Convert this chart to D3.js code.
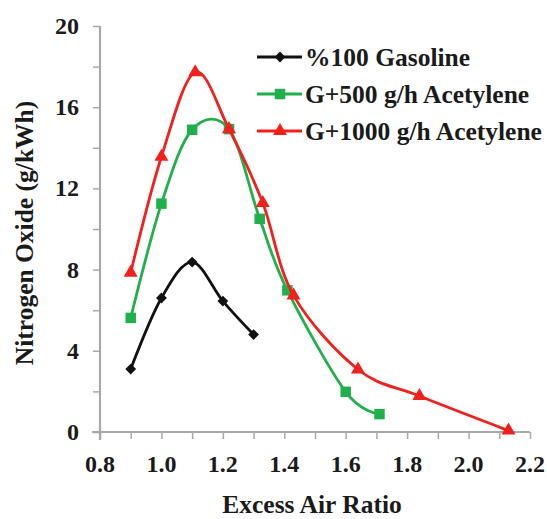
<!DOCTYPE html>
<html>
<head>
<meta charset="utf-8">
<script src="https://cdn.jsdelivr.net/npm/d3@7"></script>
<style>
  html, body { margin: 0; padding: 0; background: #fff; }
  svg text { font-family: "Liberation Serif", "Times New Roman", serif; font-weight: bold; fill: #1a1a1a; }
</style>
</head>
<body>
<svg id="chart" width="547" height="519"></svg>
<script>
// NOx emission vs. excess air ratio for three fuel mixtures
const gasolineX = [0.9, 1.0, 1.1, 1.2, 1.3];
const gasolineY = [3.1, 6.6, 8.37, 6.45, 4.8];

const acet500X = [0.9, 1.0, 1.1, 1.22, 1.32, 1.41, 1.6, 1.71];
const acet500Y = [5.62, 11.25, 14.89, 14.92, 10.5, 6.98, 1.98, 0.88];

const acet1000X = [0.9, 1.0, 1.11, 1.22, 1.33, 1.43, 1.64, 1.84, 2.13];
const acet1000Y = [7.85, 13.56, 17.72, 14.92, 11.28, 6.73, 3.08, 1.77, 0.07];

const seriesNames = ["%100 Gasoline", "G+500 g/h Acetylene", "G+1000 g/h Acetylene"];
const xTicks = [0.8, 1.0, 1.2, 1.4, 1.6, 1.8, 2.0, 2.2];
const yTicks = [0, 4, 8, 12, 16, 20];
const xTitle = "Excess Air Ratio";
const yTitle = "Nitrogen Oxide (g/kWh)";

const series = [
  { name: seriesNames[0], xs: gasolineX, ys: gasolineY, color: "#111111", symbol: d3.symbolDiamond2, size: 75 },
  { name: seriesNames[1], xs: acet500X, ys: acet500Y, color: "#1fb04c", symbol: d3.symbolSquare, size: 110 },
  { name: seriesNames[2], xs: acet1000X, ys: acet1000Y, color: "#f0201c", symbol: d3.symbolTriangle, size: 85 }
];

const svg = d3.select("#chart");
const x = d3.scaleLinear().domain([0.8, 2.2]).range([100, 530]);
const y = d3.scaleLinear().domain([0, 20]).range([432, 26]);

const axisColor = "#a8a8a8";

// Axes with minor ticks
const gx = svg.append("g").attr("transform", `translate(0,${y(0)})`);
gx.call(d3.axisBottom(x).tickValues(d3.range(0.8, 2.2001, 0.1)).tickSize(7).tickFormat(""));
gx.select(".domain").remove();
gx.selectAll("line").attr("stroke", axisColor).attr("stroke-width", 1.5);
gx.append("line").attr("x1", x(0.8) - 8).attr("x2", x(2.2)).attr("stroke", axisColor).attr("stroke-width", 2.2);
gx.selectAll(".tick text").remove();

const gy = svg.append("g").attr("transform", `translate(${x(0.8)},0)`);
gy.call(d3.axisLeft(y).tickValues(d3.range(0, 20.001, 2)).tickSize(7).tickFormat(""));
gy.select(".domain").remove();
gy.selectAll("line").attr("stroke", axisColor).attr("stroke-width", 1.5);
gy.append("line").attr("y1", y(0) + 8).attr("y2", y(20)).attr("stroke", axisColor).attr("stroke-width", 2.2);

// Tick labels
svg.append("g").selectAll("text").data(xTicks).join("text")
  .attr("x", d => x(d)).attr("y", 472)
  .attr("text-anchor", "middle").attr("font-size", 24)
  .text(d => d.toFixed(1));

svg.append("g").selectAll("text").data(yTicks).join("text")
  .attr("x", 79).attr("y", d => y(d) + 8)
  .attr("text-anchor", "end").attr("font-size", 24)
  .text(d => d);

// Axis titles
svg.append("text").attr("x", 312).attr("y", 513)
  .attr("text-anchor", "middle").attr("font-size", 25.5).text(xTitle);
svg.append("text").attr("transform", "translate(33,233) rotate(-90)")
  .attr("text-anchor", "middle").attr("font-size", 25.5).text(yTitle);

// Series
const line = d3.line().x(d => x(d[0])).y(d => y(d[1])).curve(d3.curveCatmullRom.alpha(0));
const plot = svg.append("g");
series.forEach(s => {
  const pts = s.xs.map((v, i) => [v, s.ys[i]]);
  plot.append("path").datum(pts).attr("d", line)
    .attr("fill", "none").attr("stroke", s.color).attr("stroke-width", 2.8)
    .attr("stroke-linejoin", "round");
  plot.append("g").selectAll("path").data(pts).join("path")
    .attr("transform", d => `translate(${x(d[0])},${y(d[1])})`)
    .attr("d", d3.symbol().type(s.symbol).size(s.size))
    .attr("fill", s.color);
});

// Legend
const legend = svg.append("g");
series.forEach((s, i) => {
  const ly = 57 + i * 37;
  legend.append("line").attr("x1", 257).attr("x2", 302).attr("y1", ly).attr("y2", ly)
    .attr("stroke", s.color).attr("stroke-width", 2.8);
  legend.append("path").attr("transform", `translate(280,${ly})`)
    .attr("d", d3.symbol().type(s.symbol).size(s.size)).attr("fill", s.color);
  legend.append("text").attr("x", 305).attr("y", ly + 8.5).attr("font-size", 25.5).text(s.name);
});
</script>
</body>
</html>
